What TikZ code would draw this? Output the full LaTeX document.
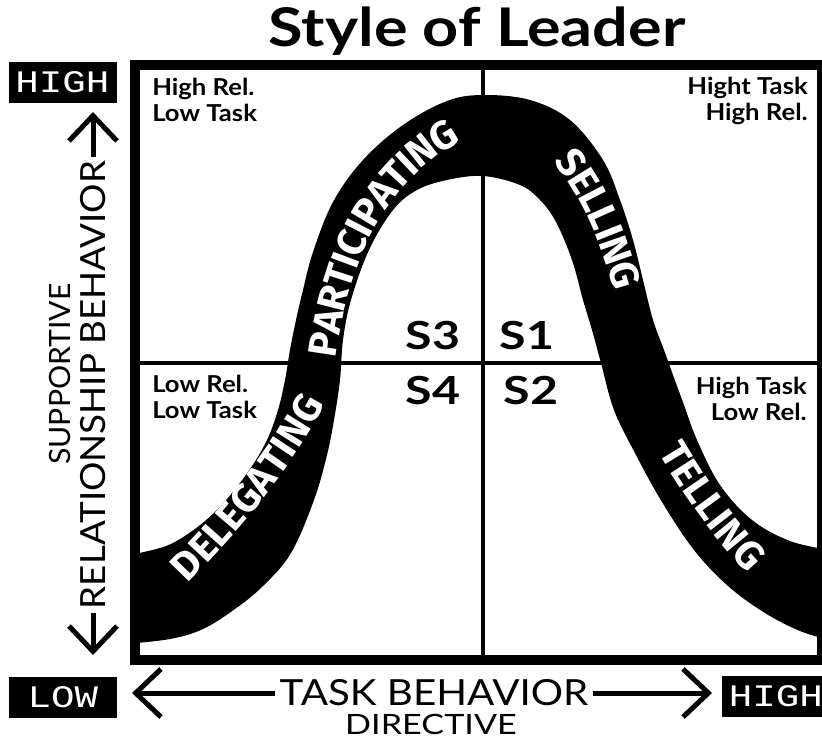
\documentclass[tikz,border=0pt]{standalone}
\usepackage{fontspec}
\usepackage{graphicx}
\setmainfont{Lato}
\newfontfamily\monofont{Liberation Mono}
\newfontfamily\bandfont{Fira Sans}
\usetikzlibrary{arrows.meta,decorations.text}

% horizontally widened text
\newcommand{\wide}[2]{\scalebox{#1}[1]{#2}}

\begin{document}
\begin{tikzpicture}[x=0.75pt,y=-0.75pt,
  axisarrow/.style={line width=3.75pt,-{Straight Barb[length=19pt,width=36pt]}},
  levelbox/.style={fill=black,text=white,minimum width=81pt,minimum height=31pt,inner sep=0pt,
    font=\monofont\fontsize{23.5}{24}\selectfont},
  cornerlabel/.style={inner sep=0pt,font=\bfseries\fontsize{17.5}{19.5}\selectfont},
  quadlabel/.style={inner sep=0pt,font=\bfseries\fontsize{29}{29}\selectfont},
  axislabel/.style={inner sep=3pt},
  divider/.style={line width=3pt},
  bandtext/.style={decorate,decoration={text along path,text align=center,raise=-10pt,text color=white}}
]
% canvas
\clip (0,0) rectangle (822,740);
\fill[white] (0,0) rectangle (822,740);

% title
\node[font=\bfseries\fontsize{40}{42}\selectfont,anchor=base,inner sep=0pt] (title) at (477,46) {\wide{1.18}{Style of Leader}};

% quadrant dividers
\draw[divider] (483,65) -- (483,660);
\draw[divider] (135,363) -- (822,363);

% the leadership curve band
\begin{scope}
\clip (139,69) rectangle (818,656);
\fill[black] plot[smooth,tension=0.6] coordinates {
  (125,556) (160,548) (180,539) (205,521) (227,499) (250,469) (267,440) (278,410)
  (285,380) (290,350) (296,320) (303,290) (313,252) (333,202) (363,160) (403,125)
  (447,101) (483,95) (530,100) (570,120) (603,160) (620,200) (633,240) (643,280)
  (653,320) (664,350) (673,375) (684,405) (697,440) (720,485) (752,520) (790,541) (830,550)}
  -- plot[smooth,tension=0.6] coordinates {
  (830,640) (800,631) (765,613) (728,586) (694,550) (662,502) (636,455) (614,410)
  (601,363) (592,330) (583,300) (572,260) (556,222) (540,200) (520,185) (483,176)
  (447,180) (417,190) (393,210) (369,250) (351,300) (343,340) (340,380) (334,420)
  (327,455) (314,500) (291,553) (263,586) (235,609) (203,629) (170,639) (125,644)}
  -- cycle;
\end{scope}

% style names along the band
\path[bandtext,decoration={text={|\bandfont\bfseries\fontsize{30}{30}\selectfont|DELEGATING}}]
  (140,612) .. controls (220,535) and (285,465) .. (338,350);
\path[bandtext,decoration={text={|\bandfont\bfseries\fontsize{30}{30}\selectfont|PARTICIPATING}}]
  (318,408) .. controls (326,263) and (372,150) .. (502,110);
\path[bandtext,decoration={text={|\bandfont\bfseries\fontsize{30}{30}\selectfont|SELLING}}]
  (530,120) .. controls (590,167) and (620,245) .. (638,335);
\path[bandtext,decoration={text={|\bandfont\bfseries\fontsize{30}{30}\selectfont|TELLING}}]
  (645,400) .. controls (675,460) and (725,540) .. (795,600);

% outer frame
\draw[line width=7.5pt] (135,65) rectangle (822,660);

% quadrant descriptions
\node[cornerlabel,anchor=north west,align=left] (hrlt) at (152,78) {\wide{1.1}{High Rel.}\\\wide{1.1}{Low Task}};
\node[cornerlabel,anchor=north east,align=right] (hthr) at (808,77) {\wide{1.1}{Hight Task}\\\wide{1.1}{High Rel.}};
\node[cornerlabel,anchor=north west,align=left] (lrlt) at (152,375) {\wide{1.1}{Low Rel.}\\\wide{1.1}{Low Task}};
\node[cornerlabel,anchor=north east,align=right] (htlr) at (807,377) {\wide{1.1}{High Task}\\\wide{1.1}{Low Rel.}};

% style numbers
\node[quadlabel] (s3) at (433,336) {\wide{1.25}{S3}};
\node[quadlabel] (s1) at (527,336) {\wide{1.25}{S1}};
\node[quadlabel] (s4) at (433,391) {\wide{1.25}{S4}};
\node[quadlabel] (s2) at (531,391) {\wide{1.25}{S2}};

% level boxes
\node[levelbox] (yhigh) at (62.5,82.5) {\wide{1.25}{HIGH}};
\node[levelbox] (xlowbox) at (63,697.5) {\wide{1.25}{LOW}};
\node[levelbox] (xhighbox) at (776,696.5) {\wide{1.25}{HIGH}};

% vertical axis
\node[axislabel,rotate=90,font=\fontsize{26}{26}\selectfont] (rel) at (93,385) {\wide{1.06}{RELATIONSHIP BEHAVIOR}};
\node[axislabel,rotate=90,font=\fontsize{22}{22}\selectfont] (sup) at (59.5,374) {\wide{1.03}{SUPPORTIVE}};
\coordinate (ytip) at (93,112);
\coordinate (ybot) at (93,655);
\draw[axisarrow] (rel.east) -- (ytip);
\draw[axisarrow] (rel.west) -- (ybot);

% horizontal axis
\node[axislabel,font=\fontsize{27}{27}\selectfont] (task) at (434,693) {\wide{1.12}{TASK BEHAVIOR}};
\node[axislabel,font=\fontsize{21}{21}\selectfont] (dir) at (431,724) {\wide{1.22}{DIRECTIVE}};
\coordinate (xtipl) at (132,693);
\coordinate (xtipr) at (712,693);
\draw[axisarrow] (task.west) -- (xtipl);
\draw[axisarrow] (task.east) -- (xtipr);
\end{tikzpicture}
\end{document}
